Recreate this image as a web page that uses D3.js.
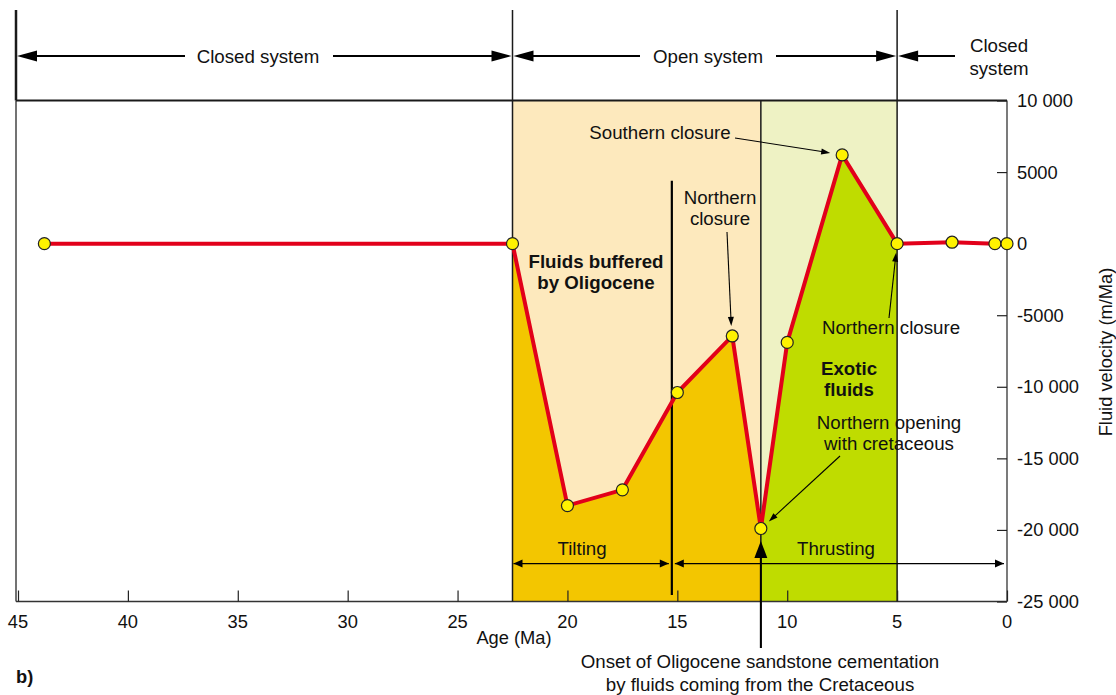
<!DOCTYPE html>
<html><head><meta charset="utf-8">
<script src="https://cdn.jsdelivr.net/npm/d3@7"></script>
<style>
html,body{margin:0;padding:0;background:#fff;}
svg{display:block;font-family:"Liberation Sans",Arial,Helvetica,sans-serif;}
</style></head>
<body>
<script>
// ---- data ----
const ages = [43.8, 22.5, 20, 17.5, 15, 12.5, 11.2, 10, 7.5, 5, 2.5, 0.55, 0];
const velocity = [0, 0, -18300, -17200, -10400, -6450, -19900, -6900, 6200, 0, 100, 0, 0];
const xTicks = [45, 40, 35, 30, 25, 20, 15, 10, 5, 0];
const yTicks = [10000, 5000, 0, -5000, -10000, -15000, -20000, -25000];
const yTickLabels = ["10 000", "5000", "0", "-5000", "-10 000", "-15 000", "-20 000", "-25 000"];
const systemNames = ["Closed system", "Open system", "Closed\nsystem"];
const systemBounds = [45, 22.5, 5, 0];
const buffered = [22.5, 11.2];   // Oligocene-buffered interval
const exotic = [11.2, 5];        // exotic fluids interval
const tectonicNames = ["Tilting", "Thrusting"];
const tectonicBounds = [22.5, 15.25, 0];

(function () {
const W = 1116, H = 695;
const svg = d3.select("body").append("svg").attr("width", W).attr("height", H);
const x = d3.scaleLinear().domain([45, 0]).range([18, 1007]);
const y = d3.scaleLinear().domain([10000, -25000]).range([100.5, 601.5]);
const pL = 16, pR = x(0), pT = y(10000), pB = y(-25000);
const FS = 18.7, TFS = 18.3;
const pts = ages.map((a, i) => ({a, v: velocity[i]}));

// background bands
svg.append("rect").attr("x", x(buffered[0])).attr("y", pT).attr("width", x(buffered[1]) - x(buffered[0])).attr("height", pB - pT).attr("fill", "#fde9bd");
svg.append("rect").attr("x", x(exotic[0])).attr("y", pT).attr("width", x(exotic[1]) - x(exotic[0])).attr("height", pB - pT).attr("fill", "#eef2c4");

// filled areas under the curve
const area = d3.area().x(d => x(d.a)).y0(pB).y1(d => y(d.v));
svg.append("path").datum(pts.filter(d => d.a <= buffered[0] && d.a >= buffered[1])).attr("d", area).attr("fill", "#f3c600");
svg.append("path").datum(pts.filter(d => d.a <= exotic[0] && d.a >= exotic[1])).attr("d", area).attr("fill", "#bfdc00");

// frame
const ink = "#1a1a1a";
svg.append("line").attr("x1", pL).attr("x2", pL).attr("y1", pT).attr("y2", pB).attr("stroke", "#444").attr("stroke-width", 1.5);
svg.append("line").attr("x1", pR).attr("x2", pR).attr("y1", pT).attr("y2", pB).attr("stroke", "#333").attr("stroke-width", 1.3);
svg.append("line").attr("x1", pL).attr("x2", pR).attr("y1", pB).attr("y2", pB).attr("stroke", "#333").attr("stroke-width", 1.5);
svg.append("line").attr("x1", pL).attr("x2", pR).attr("y1", pT).attr("y2", pT).attr("stroke", ink).attr("stroke-width", 2);
svg.append("line").attr("x1", pL).attr("x2", pL).attr("y1", 10).attr("y2", pT).attr("stroke", ink).attr("stroke-width", 2.5);
[22.5, 5].forEach(a => svg.append("line").attr("x1", x(a)).attr("x2", x(a)).attr("y1", 10).attr("y2", pB).attr("stroke", ink).attr("stroke-width", 1.5));
svg.append("line").attr("x1", x(buffered[1])).attr("x2", x(buffered[1])).attr("y1", pT).attr("y2", 648).attr("stroke", ink).attr("stroke-width", 1.5);
svg.append("line").attr("x1", x(tectonicBounds[1])).attr("x2", x(tectonicBounds[1])).attr("y1", y(4400)).attr("y2", y(-24550)).attr("stroke", "#000").attr("stroke-width", 2.2);

// axes ticks (inward)
const gx = svg.append("g").attr("transform", `translate(0,${pB})`).call(d3.axisTop(x).tickValues(xTicks).tickSize(11).tickFormat(""));
gx.select(".domain").remove();
gx.selectAll("line").attr("stroke", "#222").attr("stroke-width", 1.2);
xTicks.forEach(t => svg.append("text").attr("x", x(t)).attr("y", 628).attr("text-anchor", "middle").attr("font-size", TFS).attr("fill", "#111").text(t));
const gy = svg.append("g").attr("transform", `translate(${pR},0)`).call(d3.axisLeft(y).tickValues(yTicks).tickSize(10).tickFormat(""));
gy.select(".domain").remove();
gy.selectAll("line").attr("stroke", "#222").attr("stroke-width", 1.2);
yTicks.forEach((t, i) => svg.append("text").attr("x", pR + 10).attr("y", y(t) + 6.5).attr("font-size", TFS).attr("fill", "#111").text(yTickLabels[i]));

// axis titles
svg.append("text").attr("x", 514).attr("y", 644).attr("text-anchor", "middle").attr("font-size", TFS).attr("fill", "#111").text("Age (Ma)");
svg.append("text").attr("transform", "translate(1112,352) rotate(-90)").attr("text-anchor", "middle").attr("font-size", TFS).attr("fill", "#111").text("Fluid velocity (m/Ma)");
svg.append("text").attr("x", 16).attr("y", 683).attr("font-size", TFS).attr("font-weight", "bold").attr("fill", "#111").text("b)");

function head(hx, hy, ang, len, hw) {
  const c = Math.cos(ang), s = Math.sin(ang);
  const bx = hx - c * len, by = hy - s * len;
  const p = [[hx, hy], [bx - s * hw, by + c * hw], [bx + s * hw, by - c * hw]];
  svg.append("path").attr("d", "M" + p.map(q => q.join(",")).join("L") + "Z").attr("fill", "#000");
}
function arrowLine(x1, y1, x2, y2, len, hw, sw) {
  const ang = Math.atan2(y2 - y1, x2 - x1);
  svg.append("line").attr("x1", x1).attr("y1", y1).attr("x2", x2 - Math.cos(ang) * len * 0.6).attr("y2", y2 - Math.sin(ang) * len * 0.6).attr("stroke", "#000").attr("stroke-width", sw || 1.1);
  head(x2, y2, ang, len, hw);
}

// top system arrows
const TY = 56;
const tx = systemBounds.map((b, i) => i === 0 ? pL : x(b));
arrowLine(185, TY, tx[0] + 1, TY, 20, 5.5, 2);
arrowLine(333, TY, tx[1] - 1, TY, 20, 5.5, 2);
svg.append("text").attr("x", 258).attr("y", TY + 6.5).attr("text-anchor", "middle").attr("font-size", FS).attr("fill", "#111").text(systemNames[0]);
arrowLine(640, TY, tx[1] + 1, TY, 20, 5.5, 2);
arrowLine(776, TY, tx[2] - 1, TY, 20, 5.5, 2);
svg.append("text").attr("x", 708).attr("y", TY + 6.5).attr("text-anchor", "middle").attr("font-size", FS).attr("fill", "#111").text(systemNames[1]);
arrowLine(955, TY, tx[2] + 1, TY, 20, 5.5, 2);
systemNames[2].split("\n").forEach((s, i) => svg.append("text").attr("x", 999).attr("y", 52 + i * 23).attr("text-anchor", "middle").attr("font-size", FS).attr("fill", "#111").text(s));

// tilting / thrusting arrows
const AY = y(-22350);
function dbl(x1, x2) {
  svg.append("line").attr("x1", x1).attr("x2", x2).attr("y1", AY).attr("y2", AY).attr("stroke", "#000").attr("stroke-width", 1.3);
  head(x1, AY, Math.PI, 9, 4); head(x2, AY, 0, 9, 4);
}
dbl(x(tectonicBounds[0]) + 1, x(tectonicBounds[1]) - 3);
dbl(x(tectonicBounds[1]) + 3, x(tectonicBounds[2]) - 3);
svg.append("text").attr("x", 582).attr("y", AY - 9).attr("text-anchor", "middle").attr("font-size", FS).attr("fill", "#111").text(tectonicNames[0]);
svg.append("text").attr("x", 836).attr("y", AY - 9).attr("text-anchor", "middle").attr("font-size", FS).attr("fill", "#111").text(tectonicNames[1]);

// curve
svg.append("path").datum(pts).attr("d", d3.line().x(d => x(d.a)).y(d => y(d.v))).attr("fill", "none").attr("stroke", "#e2001a").attr("stroke-width", 4).attr("stroke-linejoin", "miter");

// big onset arrow
svg.append("line").attr("x1", x(11.2)).attr("x2", x(11.2)).attr("y1", 648).attr("y2", 555).attr("stroke", "#000").attr("stroke-width", 2);
head(x(11.2), 541, -Math.PI / 2, 17, 6.5);

// points
svg.selectAll("circle.pt").data(pts).join("circle").attr("class", "pt")
  .attr("cx", d => x(d.a)).attr("cy", d => y(d.v)).attr("r", 6)
  .attr("fill", "#fff200").attr("stroke", "#222").attr("stroke-width", 1.2);

// annotations
function txt(lines, cx, by, bold, lh) {
  lines.forEach((s, i) => svg.append("text").attr("x", cx).attr("y", by + i * (lh || 21)).attr("text-anchor", "middle")
    .attr("font-size", FS).attr("font-weight", bold ? "bold" : "normal").attr("fill", "#111").text(s));
}
txt(["Fluids buffered", "by Oligocene"], 596, 268, true);
txt(["Exotic", "fluids"], 849, 375, true);
txt(["Southern closure"], 660, 139);
arrowLine(735, 138, x(7.5) - 12, y(6200) - 2, 9, 3);
txt(["Northern", "closure"], 720, 204);
arrowLine(727, 232, x(12.5) - 1, y(-6450) - 10, 9, 3);
txt(["Northern closure"], 891, 334);
arrowLine(889, 318, x(5) - 1, y(0) + 9, 9, 3);
txt(["Northern opening", "with cretaceous"], 889, 429);
arrowLine(840, 456, x(11.2) + 8, y(-19900) - 7, 9, 3);
txt(["Onset of Oligocene sandstone cementation", "by fluids coming from the Cretaceous"], 760, 668, false, 23);
})();
</script>
</body></html>
